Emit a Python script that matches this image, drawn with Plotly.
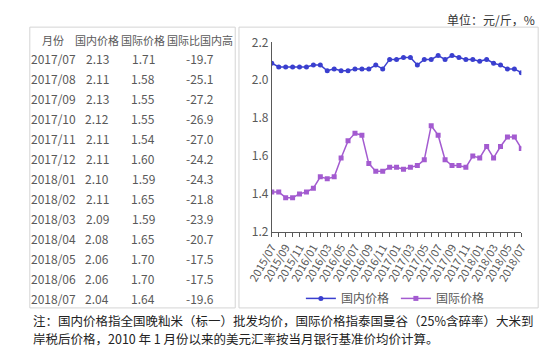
import plotly.graph_objects as go

W, H = 548, 353

# ---- chart data ----
months = [f"{y}/{m:02d}" for y, m in
          [(2015, m) for m in range(7, 13)] + [(2016, m) for m in range(1, 13)] +
          [(2017, m) for m in range(1, 13)] + [(2018, m) for m in range(1, 8)]]
domestic = [2.09, 2.07, 2.07, 2.07, 2.07, 2.07, 2.08, 2.08, 2.05, 2.06, 2.05, 2.05,
            2.06, 2.06, 2.06, 2.08, 2.06, 2.11, 2.11, 2.12, 2.12, 2.08, 2.11, 2.11,
            2.13, 2.11, 2.13, 2.12, 2.11, 2.11, 2.10, 2.11, 2.09, 2.08, 2.06, 2.06, 2.04]
international = [1.41, 1.41, 1.38, 1.38, 1.40, 1.41, 1.43, 1.49, 1.48, 1.49, 1.59, 1.68,
                 1.72, 1.71, 1.56, 1.52, 1.52, 1.54, 1.54, 1.53, 1.54, 1.55, 1.58, 1.76,
                 1.71, 1.58, 1.55, 1.55, 1.54, 1.60, 1.59, 1.65, 1.59, 1.65, 1.70, 1.70, 1.64]
tick_labels = [m if i % 2 == 0 else "" for i, m in enumerate(months)]

# ---- table data ----
table_header = ["月份", "国内价格", "国际价格", "国际比国内高"]
table_months = ["2017/07", "2017/08", "2017/09", "2017/10", "2017/11", "2017/12",
                "2018/01", "2018/02", "2018/03", "2018/04", "2018/05", "2018/06", "2018/07"]
table_dom = ["2.13", "2.11", "2.13", "2.12", "2.11", "2.11", "2.10", "2.11", "2.09",
             "2.08", "2.06", "2.06", "2.04"]
table_intl = ["1.71", "1.58", "1.55", "1.55", "1.54", "1.60", "1.59", "1.65", "1.59",
              "1.65", "1.70", "1.70", "1.64"]
table_diff = ["-19.7", "-25.1", "-27.2", "-26.9", "-27.0", "-24.2", "-24.3", "-21.8",
              "-23.9", "-20.7", "-17.5", "-17.5", "-19.6"]

unit_text = "单位：元/斤，%"
note_lines = ["注：国内价格指全国晚籼米（标一）批发均价，国际价格指泰国曼谷（25%含碎率）大米到",
              "岸税后价格，2010 年 1 月份以来的美元汇率按当月银行基准价均价计算。"]

FONT = "Noto Sans CJK SC, Noto Sans, sans-serif"
GRAY = "#595959"
BLUE = "#3a3fcf"
PURPLE = "#a35bd0"


def px(x):
    return x / W


def py(y):
    return 1 - y / H


fig = go.Figure()
fig.add_trace(go.Scatter(x=months, y=domestic, name="国内价格", mode="lines+markers",
                         line=dict(color=BLUE, width=1.5),
                         marker=dict(symbol="circle", size=5, color=BLUE)))
fig.add_trace(go.Scatter(x=months, y=international, name="国际价格", mode="lines+markers",
                         line=dict(color=PURPLE, width=1.5),
                         marker=dict(symbol="square", size=5, color=PURPLE)))

shapes = [
    dict(type="rect", xref="paper", yref="paper", x0=px(3), x1=px(222), y0=py(313), y1=py(18),
         line=dict(color="#d4d4d4", width=1), layer="below"),
    dict(type="rect", xref="paper", yref="paper", x0=px(226), x1=px(545), y0=py(313), y1=py(18),
         line=dict(color="#d4d4d4", width=1), layer="below"),
]

ann = []
# unit text
ann.append(dict(x=px(544), y=py(10), xref="paper", yref="paper", text=unit_text,
                showarrow=False, xanchor="right", yanchor="middle",
                font=dict(family=FONT, size=12, color="#333333")))
# table header
col_x = [28, 75, 124, 184]
for cx, h in zip(col_x, table_header):
    ann.append(dict(x=px(cx), y=py(31), xref="paper", yref="paper", text=h, showarrow=False,
                    xanchor="center", yanchor="middle",
                    font=dict(family=FONT, size=11, color=GRAY)))
row_y0, row_dy = 51, 21.0
for i in range(len(table_months)):
    yy = py(row_y0 + i * row_dy)
    for cx, val in zip(col_x, [table_months[i], table_dom[i], table_intl[i], table_diff[i]]):
        ann.append(dict(x=px(cx), y=yy, xref="paper", yref="paper", text=val, showarrow=False,
                        xanchor="center", yanchor="middle",
                        font=dict(family=FONT, size=12, color=GRAY)))
# footnote
for i, line in enumerate(note_lines):
    ann.append(dict(x=px(4), y=py(326 + i * 19), xref="paper", yref="paper", text=line,
                    showarrow=False, xanchor="left", yanchor="middle",
                    font=dict(family=FONT, size=12.5, color="#222222")))

fig.update_layout(
    width=W, height=H, autosize=False,
    margin=dict(l=0, r=0, t=0, b=0),
    paper_bgcolor="white", plot_bgcolor="white",
    showlegend=True,
    legend=dict(orientation="h", x=px(292), y=py(303), xanchor="left", yanchor="middle",
                font=dict(family=FONT, size=12, color=GRAY), itemwidth=30,
                entrywidth=50, entrywidthmode="pixels",
                bgcolor="rgba(0,0,0,0)"),
    xaxis=dict(domain=[px(261), px(527)], type="category", range=[0, 36],
               tickmode="array", tickvals=months, ticktext=tick_labels,
               tickangle=-60, tickfont=dict(family=FONT, size=11, color=GRAY),
               showline=True, linecolor=GRAY, linewidth=1, ticks="outside", ticklen=4,
               tickcolor=GRAY, showgrid=False, zeroline=False),
    yaxis=dict(domain=[py(233), py(34)], range=[1.2, 2.2], dtick=0.2, tickformat=".1f",
               tickfont=dict(family=FONT, size=12, color=GRAY),
               showline=True, linecolor=GRAY, linewidth=1, ticks="", showgrid=False,
               zeroline=False),
    shapes=shapes, annotations=ann,
)

fig.write_html("out.html")
